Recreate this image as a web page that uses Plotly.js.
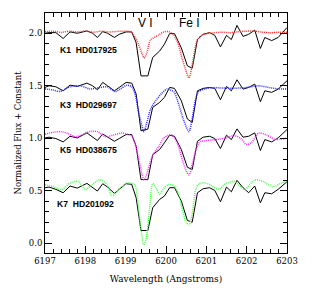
<!DOCTYPE html>
<html>
<head>
<meta charset="utf-8">
<script src="https://cdn.plot.ly/plotly-3.0.1.min.js"></script>
<style>html,body{margin:0;padding:0;background:#fff;}#chart{width:314px;height:293px;}</style>
</head>
<body>
<div id="chart"></div>
<script>
// Observed spectrum wavelengths (Angstroms), shared by the four black curves
var wlObs = [6197.00, 6197.10, 6197.27, 6197.45, 6197.62, 6197.80, 6198.04, 6198.18, 6198.30, 6198.43,
             6198.55, 6198.72, 6198.84, 6199.01, 6199.15, 6199.26, 6199.38, 6199.55, 6199.67, 6199.84,
             6199.96, 6200.09, 6200.21, 6200.38, 6200.53, 6200.65, 6200.78, 6200.92, 6201.08, 6201.21,
             6201.35, 6201.50, 6201.62, 6201.76, 6201.91, 6202.05, 6202.20, 6202.34, 6202.45, 6202.62,
             6202.78, 6203.00];
var obsK1 = [2.000, 2.006, 2.006, 1.950, 2.013, 2.000, 2.022, 2.000, 1.960, 2.016,
             2.000, 1.960, 1.990, 2.013, 2.013, 1.910, 1.594, 1.594, 1.770, 1.830,
             1.895, 1.997, 1.997, 1.860, 1.690, 1.667, 1.940, 1.990, 2.006, 1.980,
             1.870, 1.980, 1.940, 2.075, 1.970, 1.990, 2.030, 1.855, 1.960, 1.930,
             1.960, 2.055];
var obsK3 = [1.484, 1.500, 1.490, 1.452, 1.506, 1.494, 1.525, 1.500, 1.462, 1.532,
             1.500, 1.452, 1.484, 1.532, 1.525, 1.421, 1.071, 1.087, 1.294, 1.341,
             1.389, 1.484, 1.475, 1.357, 1.183, 1.151, 1.452, 1.475, 1.484, 1.475,
             1.367, 1.494, 1.452, 1.557, 1.468, 1.484, 1.516, 1.348, 1.452, 1.437,
             1.468, 1.548];
var obsK5 = [1.003, 1.010, 0.997, 0.965, 1.019, 1.003, 1.051, 1.010, 0.978, 1.041,
             1.010, 0.971, 0.997, 1.035, 1.035, 0.924, 0.606, 0.606, 0.844, 0.892,
             0.956, 1.029, 1.019, 0.892, 0.724, 0.702, 0.971, 1.010, 1.019, 0.997,
             0.902, 1.029, 0.987, 1.089, 1.010, 1.019, 1.051, 0.883, 0.987, 0.965,
             1.003, 1.083];
var obsK7 = [0.529, 0.535, 0.513, 0.481, 0.545, 0.525, 0.570, 0.535, 0.497, 0.567,
             0.535, 0.475, 0.513, 0.567, 0.561, 0.433, 0.121, 0.121, 0.338, 0.417,
             0.449, 0.529, 0.529, 0.401, 0.217, 0.201, 0.481, 0.519, 0.529, 0.503,
             0.395, 0.535, 0.490, 0.599, 0.529, 0.481, 0.545, 0.385, 0.481, 0.471,
             0.513, 0.586];

// Template spectra (dotted)
var wlK1 = [6197.0, 6197.2, 6197.4, 6197.6, 6197.8, 6198.0, 6198.2, 6198.4, 6198.6, 6198.8,
            6198.95, 6199.12, 6199.24, 6199.32, 6199.41, 6199.46, 6199.53, 6199.61, 6199.70, 6199.82,
            6199.94, 6200.07, 6200.19, 6200.30, 6200.40, 6200.49, 6200.57, 6200.65, 6200.78, 6200.90,
            6201.0, 6201.2, 6201.4, 6201.6, 6201.8, 6202.0, 6202.2, 6202.4, 6202.6, 6202.8, 6203.0];
var tplK1 = [2.015, 2.020, 2.008, 2.020, 2.012, 2.022, 2.010, 2.020, 2.012, 2.018,
             2.018, 2.015, 1.960, 1.890, 1.800, 1.765, 1.820, 1.936, 1.958, 1.984,
             2.012, 2.015, 1.984, 1.900, 1.760, 1.650, 1.575, 1.700, 1.940, 1.985,
             1.995, 2.005, 2.010, 2.005, 2.015, 2.020, 2.020, 2.010, 2.005, 2.010, 2.010];

var wlK3 = [6197.0, 6197.2, 6197.37, 6197.62, 6197.87, 6198.12, 6198.32, 6198.54, 6198.74, 6198.87,
            6199.03, 6199.15, 6199.24, 6199.32, 6199.41, 6199.45, 6199.51, 6199.61, 6199.70, 6199.90,
            6200.03, 6200.11, 6200.20, 6200.28, 6200.44, 6200.57, 6200.65, 6200.73, 6200.80, 6200.94,
            6201.1, 6201.3, 6201.6, 6201.9, 6202.1, 6202.3, 6202.6, 6202.8, 6203.0];
var tplK3 = [1.470, 1.460, 1.445, 1.490, 1.500, 1.470, 1.480, 1.490, 1.445, 1.470,
             1.505, 1.490, 1.410, 1.250, 1.110, 1.063, 1.127, 1.270, 1.333, 1.430,
             1.470, 1.460, 1.440, 1.365, 1.170, 1.063, 1.190, 1.365, 1.440, 1.467,
             1.480, 1.480, 1.476, 1.480, 1.490, 1.500, 1.480, 1.470, 1.470];

var wlK5 = [6197.0, 6197.2, 6197.4, 6197.55, 6197.75, 6197.9, 6198.1, 6198.3, 6198.5, 6198.7,
            6198.9, 6199.03, 6199.15, 6199.24, 6199.32, 6199.41, 6199.46, 6199.53, 6199.61, 6199.70,
            6199.82, 6199.94, 6200.07, 6200.15, 6200.28, 6200.40, 6200.50, 6200.57, 6200.65, 6200.75,
            6200.85, 6200.95, 6201.1, 6201.3, 6201.5, 6201.7, 6201.85, 6202.0, 6202.12, 6202.3,
            6202.5, 6202.7, 6203.0];
var tplK5 = [1.038, 1.057, 1.063, 1.048, 1.015, 1.031, 1.063, 1.063, 1.015, 1.031,
             1.050, 1.040, 1.020, 0.936, 0.810, 0.650, 0.603, 0.667, 0.777, 0.857,
             0.920, 1.000, 1.030, 1.030, 0.952, 0.800, 0.690, 0.650, 0.750, 0.900,
             0.968, 0.975, 0.984, 0.990, 1.006, 1.025, 1.000, 0.940, 0.960, 1.050,
             1.030, 0.990, 1.000];

var wlK7 = [6197.0, 6197.2, 6197.41, 6197.62, 6197.83, 6198.0, 6198.16, 6198.37, 6198.54, 6198.66,
            6198.87, 6199.03, 6199.22, 6199.30, 6199.38, 6199.45, 6199.51, 6199.59, 6199.67, 6199.75,
            6199.84, 6199.94, 6200.07, 6200.19, 6200.30, 6200.40, 6200.50, 6200.57, 6200.65, 6200.73,
            6200.80, 6200.94, 6201.1, 6201.3, 6201.5, 6201.7, 6201.95, 6202.2, 6202.4, 6202.65,
            6202.85, 6203.0];
var tplK7 = [0.557, 0.540, 0.510, 0.573, 0.589, 0.510, 0.557, 0.605, 0.557, 0.452,
             0.526, 0.573, 0.560, 0.400, 0.130, -0.015, 0.050, 0.320, 0.567, 0.530,
             0.465, 0.520, 0.560, 0.550, 0.480, 0.330, 0.200, 0.175, 0.280, 0.500,
             0.560, 0.577, 0.555, 0.514, 0.571, 0.587, 0.514, 0.603, 0.590, 0.539,
             0.571, 0.590];

var starLabels = ["K1\u00a0\u00a0HD017925", "K3\u00a0\u00a0HD029697", "K5\u00a0\u00a0HD038675", "K7\u00a0\u00a0HD201092"];
var labelX = [6197.32, 6197.32, 6197.32, 6197.25];
var labelY = [1.84, 1.317, 0.884, 0.374];
var lineNames = ["V I", "Fe I"];
var lineX = [6199.49, 6200.58];
var lineY = [2.095, 2.095];

var tplColors = ["#ff3535", "#2a2aff", "#ff2aff", "#44ff44"];
var tplWl = [wlK1, wlK3, wlK5, wlK7];
var tplVals = [tplK1, tplK3, tplK5, tplK7];
var obsVals = [obsK1, obsK3, obsK5, obsK7];

var traces = [];
for (var i = 0; i < 4; i++) {
  traces.push({x: wlObs, y: obsVals[i], mode: 'lines', type: 'scatter',
    line: {color: '#000', width: 1}, hoverinfo: 'skip'});
  traces.push({x: tplWl[i], y: tplVals[i], mode: 'lines', type: 'scatter',
    line: {color: tplColors[i], width: 1.5, dash: '1px,1px', shape: 'spline', smoothing: 0.8}, hoverinfo: 'skip'});
}

var annotations = [];
for (var j = 0; j < starLabels.length; j++) {
  annotations.push({x: labelX[j], y: labelY[j], xref: 'x', yref: 'y', text: '<b>' + starLabels[j] + '</b>',
    showarrow: false, xanchor: 'left', yanchor: 'middle',
    font: {family: 'Liberation Sans, Arial, sans-serif', size: 8.6, color: '#000'}});
}
for (var k = 0; k < lineNames.length; k++) {
  annotations.push({x: lineX[k], y: lineY[k], xref: 'x', yref: 'y', text: lineNames[k],
    showarrow: false, xanchor: 'center', yanchor: 'middle',
    font: {family: 'Liberation Sans, Arial, sans-serif', size: 12, color: '#000'}});
}

var serif = 'DejaVu Serif';
var layout = {
  width: 314, height: 293,
  margin: {l: 45, r: 27, t: 13, b: 40},
  paper_bgcolor: '#fff', plot_bgcolor: '#fff',
  showlegend: false,
  xaxis: {
    range: [6197, 6203], dtick: 1, tick0: 6197, ticks: 'inside', ticklen: 7, tickwidth: 1, tickcolor: '#000',
    showline: true, linecolor: '#000', linewidth: 1, mirror: 'allticks', showgrid: false, zeroline: false,
    minor: {dtick: 0.2, tick0: 6197, ticks: 'inside', ticklen: 4, tickcolor: '#000', showgrid: false},
    tickfont: {family: serif, size: 8.5, color: '#000'}, tickformat: 'd',
    title: {text: 'Wavelength (Angstroms)', font: {family: serif, size: 9, color: '#000'}, standoff: 10},
    automargin: false
  },
  yaxis: {
    range: [-0.093, 2.193], dtick: 0.5, tick0: 0, ticks: 'inside', ticklen: 7, tickwidth: 1, tickcolor: '#000',
    showline: true, linecolor: '#000', linewidth: 1, mirror: 'allticks', showgrid: false, zeroline: false,
    minor: {dtick: 0.1, tick0: 0, ticks: 'inside', ticklen: 4, tickcolor: '#000', showgrid: false},
    tickfont: {family: serif, size: 8.5, color: '#000'}, tickformat: '.1f',
    title: {text: 'Normalized Flux + Constant', font: {family: serif, size: 8.5, color: '#000'}, standoff: 5},
    automargin: false
  },
  annotations: annotations
};
Plotly.newPlot('chart', traces, layout, {displayModeBar: false, staticPlot: true});
</script>
</body>
</html>
